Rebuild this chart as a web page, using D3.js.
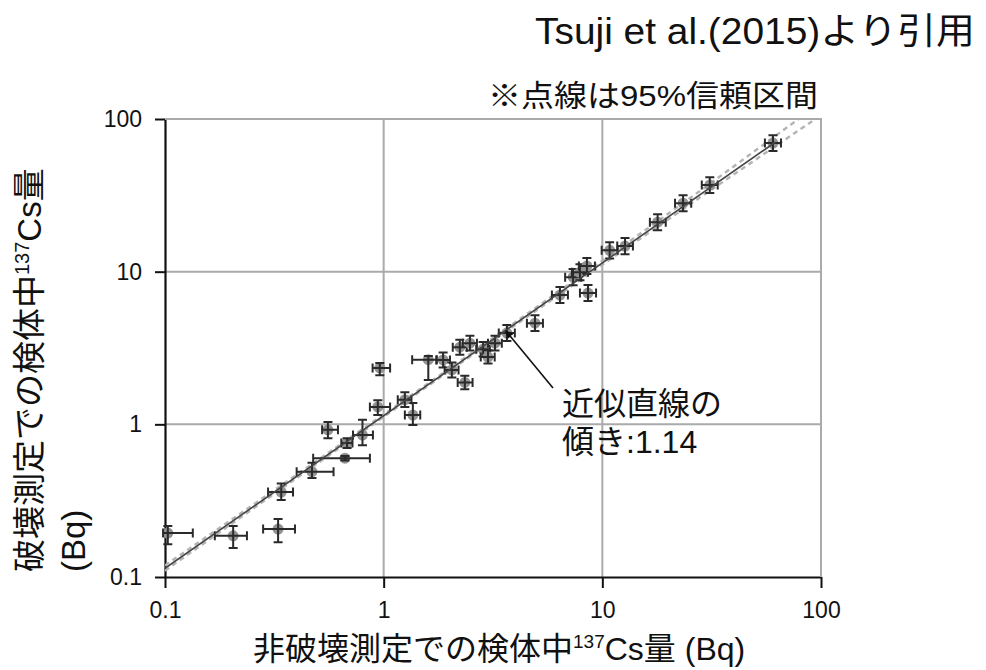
<!DOCTYPE html>
<html>
<head>
<meta charset="utf-8">
<script src="https://cdn.jsdelivr.net/npm/d3@7"></script>
<style>
  body { margin: 0; background: #fff; }
  svg text { font-family: "Liberation Sans", "Noto Sans CJK JP", sans-serif; fill: #111; }
</style>
</head>
<body>
<div id="chart"></div>
<script>
// decade ticks on both log axes
var tickValues = [0.1, 1, 10, 100];
var tickLabels = ["0.1", "1", "10", "100"];

// measured points: x = non-destructive, y = destructive (Bq), with error ranges
var ptX   = [0.103, 0.205, 0.329, 0.34, 0.47, 0.665, 0.556, 0.80, 0.68, 0.94, 0.96, 1.36, 1.25, 1.6, 1.87, 2.05, 2.35, 2.23, 2.48, 2.85, 3.0, 3.23, 3.66, 4.92, 6.4, 7.35, 7.9, 8.5, 8.6, 10.8, 12.7, 17.9, 23.4, 31, 60.3];
var ptY   = [0.194, 0.186, 0.206, 0.36, 0.49, 0.60, 0.92, 0.85, 0.755, 1.30, 2.34, 1.15, 1.45, 2.65, 2.64, 2.27, 1.88, 3.2, 3.4, 3.1, 2.76, 3.4, 3.96, 4.6, 7.03, 9.2, 9.9, 10.9, 7.24, 13.8, 14.7, 21.1, 28.1, 36.9, 69.5];
var ptXlo = [0.098, 0.169, 0.281, 0.296, 0.40, 0.476, 0.523, 0.724, 0.64, 0.865, 0.89, 1.25, 1.16, 1.35, 1.74, 1.9, 2.18, 2.07, 2.3, 2.65, 2.78, 3.0, 3.36, 4.52, 5.88, 6.76, 7.26, 7.81, 7.9, 9.93, 11.7, 16.5, 21.5, 28.5, 55.4];
var ptXhi = [0.134, 0.237, 0.393, 0.385, 0.59, 0.865, 0.618, 0.893, 0.72, 1.07, 1.07, 1.47, 1.34, 1.75, 2.01, 2.2, 2.55, 2.4, 2.67, 3.06, 3.22, 3.47, 3.98, 5.35, 6.96, 8.0, 8.6, 9.25, 9.36, 11.75, 13.8, 19.5, 25.5, 33.7, 65.6];
var ptYlo = [0.164, 0.155, 0.169, 0.32, 0.445, 0.58, 0.81, 0.73, 0.70, 1.15, 2.1, 0.99, 1.3, 1.95, 2.36, 2.03, 1.7, 2.86, 3.05, 2.78, 2.5, 3.05, 3.51, 4.08, 6.23, 8.16, 8.78, 9.66, 6.42, 12.2, 13.0, 18.7, 24.9, 32.7, 61.6];
var ptYhi = [0.216, 0.216, 0.240, 0.41, 0.56, 0.62, 1.035, 1.07, 0.81, 1.44, 2.52, 1.38, 1.62, 2.8, 2.95, 2.54, 2.08, 3.58, 3.8, 3.46, 3.06, 3.8, 4.47, 5.19, 7.93, 10.4, 11.2, 12.3, 8.17, 15.6, 16.6, 23.8, 31.7, 41.6, 78.4];

// regression line (slope 1.14) and its 95% band
var fitX = [0.1, 62];
var fitY = [0.114, 70.7];
var ciX     = [0.1, 0.3, 1, 3, 10, 30, 100];
var ciUpper = [0.119, 0.352, 1.16, 3.49, 11.8, 36.3, 128];
var ciLower = [0.110, 0.333, 1.12, 3.36, 11.1, 32.8, 106];

var svg = d3.select("#chart").append("svg")
    .attr("width", 986)
    .attr("height", 670);

var x = d3.scaleLog().domain([0.1, 100]).range([165, 821]);
var y = d3.scaleLog().domain([0.1, 100]).range([577, 119]);

svg.append("defs").append("clipPath").attr("id", "plot")
    .append("rect")
    .attr("x", 165).attr("y", 119)
    .attr("width", 821 - 165).attr("height", 577 - 119);

// grid
var grid = svg.append("g").attr("stroke", "#aaaaaa").attr("stroke-width", 2);
grid.selectAll(".gx").data(tickValues.slice(1))
    .enter().append("line")
    .attr("x1", function(d) { return x(d); })
    .attr("x2", function(d) { return x(d); })
    .attr("y1", y(0.1)).attr("y2", y(100));
grid.selectAll(".gy").data(tickValues.slice(1))
    .enter().append("line")
    .attr("x1", x(0.1)).attr("x2", x(100))
    .attr("y1", function(d) { return y(d); })
    .attr("y2", function(d) { return y(d); });

// axes
var xAxis = d3.axisBottom(x).tickValues(tickValues)
    .tickFormat(function(d, i) { return tickLabels[i]; })
    .tickSize(11).tickSizeOuter(0).tickPadding(14);
var yAxis = d3.axisLeft(y).tickValues(tickValues)
    .tickFormat(function(d, i) { return tickLabels[i]; })
    .tickSize(10).tickSizeOuter(0).tickPadding(13);

var gx = svg.append("g")
    .attr("transform", "translate(0," + y(0.1) + ")")
    .call(xAxis);
var gy = svg.append("g")
    .attr("transform", "translate(" + x(0.1) + ",0)")
    .call(yAxis);
[gx, gy].forEach(function(g) {
    g.select(".domain").attr("stroke", "#111").attr("stroke-width", 2.2);
    g.selectAll(".tick line").attr("stroke", "#111").attr("stroke-width", 2);
    g.selectAll(".tick text")
        .style("font-family", "Liberation Sans")
        .style("font-size", "23px")
        .attr("fill", "#222");
});

// confidence band and fit
var line = d3.line()
    .x(function(d) { return x(d[0]); })
    .y(function(d) { return y(d[1]); });

var lines = svg.append("g").attr("clip-path", "url(#plot)").attr("fill", "none");
[ciUpper, ciLower].forEach(function(c) {
    lines.append("path")
        .attr("d", line(d3.zip(ciX, c)))
        .attr("stroke", "#b4b4b4")
        .attr("stroke-width", 2.4)
        .attr("stroke-dasharray", "5,4");
});

// points
var pts = d3.range(ptX.length).map(function(i) {
    return {x: ptX[i], y: ptY[i], xlo: ptXlo[i], xhi: ptXhi[i], ylo: ptYlo[i], yhi: ptYhi[i]};
});

var p = svg.append("g").selectAll(".pt")
    .data(pts)
    .enter().append("g")
    .attr("class", "pt");

p.append("circle")
    .attr("cx", function(d) { return x(d.x); })
    .attr("cy", function(d) { return y(d.y); })
    .attr("r", 5.5)
    .attr("fill", "#939393");

var cap = 4.5;
p.append("path")
    .attr("fill", "none")
    .attr("stroke", "#2a2a2a")
    .attr("stroke-width", 2)
    .attr("d", function(d) {
        var cx = x(d.x), cy = y(d.y),
            x0 = x(d.xlo), x1 = x(d.xhi),
            y0 = y(d.ylo), y1 = y(d.yhi);
        return "M" + x0 + "," + cy + "H" + x1 +
            "M" + x0 + "," + (cy - cap) + "V" + (cy + cap) +
            "M" + x1 + "," + (cy - cap) + "V" + (cy + cap) +
            "M" + cx + "," + y0 + "V" + y1 +
            "M" + (cx - cap) + "," + y0 + "H" + (cx + cap) +
            "M" + (cx - cap) + "," + y1 + "H" + (cx + cap);
    });

svg.append("path")
    .attr("clip-path", "url(#plot)")
    .attr("d", line(d3.zip(fitX, fitY)))
    .attr("fill", "none")
    .attr("stroke", "#444")
    .attr("stroke-width", 1.6);

// border (top / right)
svg.append("path")
    .attr("d", "M" + x(0.1) + "," + y(100) + "H" + x(100) + "V" + y(0.1))
    .attr("fill", "none")
    .attr("stroke", "#aaaaaa")
    .attr("stroke-width", 2);

// annotation arrow
svg.append("defs").append("marker")
    .attr("id", "head")
    .attr("viewBox", "0 0 10 10")
    .attr("refX", 9).attr("refY", 5)
    .attr("markerWidth", 5).attr("markerHeight", 5)
    .attr("orient", "auto")
    .append("path").attr("d", "M0,0L10,5L0,10z").attr("fill", "#111");

svg.append("line")
    .attr("x1", 553).attr("y1", 388)
    .attr("x2", x(3.62)).attr("y2", y(4.1))
    .attr("stroke", "#111")
    .attr("stroke-width", 1.6)
    .attr("marker-end", "url(#head)");

svg.append("text")
    .attr("x", 562).attr("y", 415)
    .style("font-size", "32px")
    .text("近似直線の");
svg.append("text")
    .attr("x", 562).attr("y", 453)
    .style("font-size", "32px")
    .text("傾き:1.14");

// titles
svg.append("text")
    .attr("x", 535).attr("y", 44)
    .attr("textLength", 440)
    .attr("lengthAdjust", "spacingAndGlyphs")
    .style("font-size", "36px")
    .text("Tsuji et al.(2015)より引用");

svg.append("text")
    .attr("x", 488).attr("y", 106)
    .attr("textLength", 330)
    .attr("lengthAdjust", "spacingAndGlyphs")
    .style("font-size", "30px")
    .text("※点線は95%信頼区間");

// x label
var xl = svg.append("text")
    .attr("x", 253).attr("y", 660)
    .style("font-size", "32px");
xl.append("tspan").text("非破壊測定での検体中");
xl.append("tspan").attr("dy", -12).style("font-size", "19px").text("137");
xl.append("tspan").attr("dy", 12).text("Cs量 (Bq)");

// y label (two lines)
var yl = svg.append("g").attr("transform", "translate(0,572) rotate(-90)");
var yl1 = yl.append("text")
    .attr("x", 0).attr("y", 41)
    .style("font-size", "33px");
yl1.append("tspan").text("破壊測定での検体中");
yl1.append("tspan").attr("dy", -12).style("font-size", "20px").text("137");
yl1.append("tspan").attr("dy", 12).text("Cs量");
yl.append("text")
    .attr("x", 0).attr("y", 85)
    .style("font-size", "33px")
    .text("(Bq)");
</script>
</body>
</html>
